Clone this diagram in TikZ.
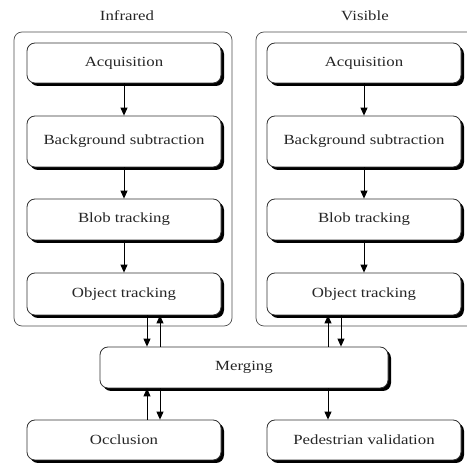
\documentclass[tikz,border=0pt]{standalone}
\usepackage{fontspec}
\setmainfont{Liberation Serif}[FakeStretch=1.2]
\usetikzlibrary{arrows.meta,shadows}
\begin{document}
\begin{tikzpicture}[x=1pt,y=-1pt,
  font=\fontsize{14}{16}\selectfont,
  box/.style={draw=black!80,line width=0.8pt,rounded corners=8pt,fill=white,
    text=black!85,
    drop shadow={shadow xshift=3pt,shadow yshift=-3pt,fill=black,opacity=1},
    inner sep=0pt},
  frame/.style={draw=black!70,line width=0.7pt,rounded corners=8pt},
  arr/.style={draw=black,line width=0.9pt,-{Triangle[width=7pt,length=8pt]}},
  lbl/.style={text=black!85}]
\useasboundingbox (0,0) rectangle (467,465);
% containers
\draw[frame] (14,32) rectangle (232,326);
\draw[frame] (470,32) -- (256,32) -- (256,326) -- (470,326);
\node[lbl] (tir) at (127,16) {Infrared};
\node[lbl] (tvis) at (365,16) {Visible};
% left column
\node[box,minimum width=194pt,minimum height=40pt] (lacq) at (124,63) {Acquisition};
\node[box,minimum width=194pt,minimum height=51pt] (lbg) at (124,141.5) {Background subtraction};
\node[box,minimum width=194pt,minimum height=41pt] (lblob) at (124,219.5) {Blob tracking};
\node[box,minimum width=194pt,minimum height=42pt] (lobj) at (124,294) {Object tracking};
% right column
\node[box,minimum width=194pt,minimum height=40pt] (racq) at (364,63) {Acquisition};
\node[box,minimum width=194pt,minimum height=51pt] (rbg) at (364,141.5) {Background subtraction};
\node[box,minimum width=194pt,minimum height=41pt] (rblob) at (364,219.5) {Blob tracking};
\node[box,minimum width=194pt,minimum height=42pt] (robj) at (364,294) {Object tracking};
% bottom
\node[box,minimum width=288pt,minimum height=41pt] (merge) at (244,367.5) {Merging};
\node[box,minimum width=194pt,minimum height=40pt] (occ) at (124,440) {Occlusion};
\node[box,minimum width=194pt,minimum height=40pt] (ped) at (364,440) {Pedestrian validation};
% arrows
\draw[arr] (lacq) -- (lbg);
\draw[arr] (lbg) -- (lblob);
\draw[arr] (lblob) -- (lobj);
\draw[arr] (racq) -- (rbg);
\draw[arr] (rbg) -- (rblob);
\draw[arr] (rblob) -- (robj);
\coordinate (a1) at (147,0);
\coordinate (a2) at (160,0);
\coordinate (a3) at (328,0);
\coordinate (a4) at (341,0);
\draw[arr] (a1 |- lobj.south) -- (a1 |- merge.north);
\draw[arr] (a2 |- merge.north) -- (a2 |- lobj.south);
\draw[arr] (a3 |- merge.north) -- (a3 |- robj.south);
\draw[arr] (a4 |- robj.south) -- (a4 |- merge.north);
\draw[arr] (a1 |- occ.north) -- (a1 |- merge.south);
\draw[arr] (a2 |- merge.south) -- (a2 |- occ.north);
\draw[arr] (a3 |- merge.south) -- (a3 |- ped.north);
\end{tikzpicture}
\end{document}
